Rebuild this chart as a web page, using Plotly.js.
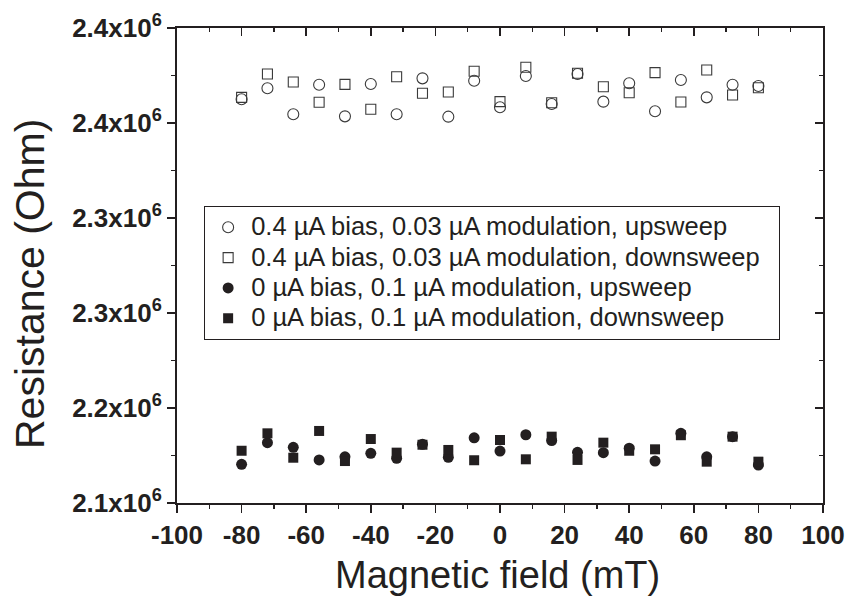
<!DOCTYPE html>
<html>
<head>
<meta charset="utf-8">
<script src="https://cdn.plot.ly/plotly-3.0.1.min.js"></script>
<style>
  html, body { margin: 0; padding: 0; background: #fff; }
  #chart { width: 850px; height: 598px; }
</style>
</head>
<body>
<div id="chart"></div>
<script>
// Magnetic field sweep points (mT)
const field = [-80, -72, -64, -56, -48, -40, -32, -24, -16, -8, 0, 8, 16, 24, 32, 40, 48, 56, 64, 72, 80];

// Resistance (MOhm) for each measurement condition
const biasUp = [2.3950, 2.4019, 2.3855, 2.4042, 2.3842, 2.4046, 2.3855, 2.4082, 2.3840, 2.4067, 2.3899,
                2.4097, 2.3920, 2.4109, 2.3935, 2.4051, 2.3874, 2.4072, 2.3962, 2.4042, 2.4034];
const biasDown = [2.3962, 2.4109, 2.4059, 2.3931, 2.4044, 2.3887, 2.4092, 2.3988, 2.3996, 2.4127, 2.3935,
                  2.4152, 2.3928, 2.4114, 2.4029, 2.3991, 2.4118, 2.3933, 2.4135, 2.3977, 2.4023];
const zeroUp = [2.1644, 2.1781, 2.1752, 2.1672, 2.1692, 2.1714, 2.1682, 2.1771, 2.1689, 2.1812, 2.1728,
                2.1831, 2.1794, 2.1720, 2.1718, 2.1746, 2.1665, 2.1840, 2.1692, 2.1819, 2.1640];
const zeroDown = [2.1730, 2.1840, 2.1686, 2.1855, 2.1665, 2.1804, 2.1718, 2.1768, 2.1735, 2.1670, 2.1798,
                  2.1676, 2.1819, 2.1672, 2.1781, 2.1730, 2.1739, 2.1828, 2.1661, 2.1819, 2.1661];

const seriesNames = [
  '0.4 \u00b5A bias, 0.03 \u00b5A modulation, upsweep',
  '0.4 \u00b5A bias, 0.03 \u00b5A modulation, downsweep',
  '0 \u00b5A bias, 0.1 \u00b5A modulation, upsweep',
  '0 \u00b5A bias, 0.1 \u00b5A modulation, downsweep'
];

// X tick positions (mT) and labels, printed with a plain hyphen
const xTickVals = [-100, -80, -60, -40, -20, 0, 20, 40, 60, 80, 100];
const xTickText = ['-100', '-80', '-60', '-40', '-20', '0', '20', '40', '60', '80', '100'];

// Y tick positions (MOhm) and their printed labels
const yTickVals = [2.14, 2.20, 2.26, 2.32, 2.38, 2.44];
const yTickText = ['2.1x10<sup>6</sup>', '2.2x10<sup>6</sup>', '2.3x10<sup>6</sup>',
                   '2.3x10<sup>6</sup>', '2.4x10<sup>6</sup>', '2.4x10<sup>6</sup>'];

const xTitle = 'Magnetic field (mT)';
const yTitle = 'Resistance (Ohm)';

const toOhm = arr => arr.map(v => v * 1e6);
const ink = '#231f20';
const family = 'Liberation Sans, Arial, sans-serif';

// Legend entries: larger glyphs than the row pitch, plus a little right-hand padding
const legendLabel = name => '<span style="font-size:25.5px">' + name + '\u00a0\u00a0</span>';

function scatter(y, name, symbol, filled, size) {
  return {
    x: field, y: toOhm(y), name: legendLabel(name), type: 'scatter', mode: 'markers',
    marker: filled
      ? { symbol: symbol, size: size, color: ink, line: { width: 0 } }
      : { symbol: symbol, size: size, color: '#3a3a3a', line: { width: 1.1 } }
  };
}

const traces = [
  scatter(biasUp, seriesNames[0], 'circle-open', false, 11),
  scatter(biasDown, seriesNames[1], 'square-open', false, 10),
  scatter(zeroUp, seriesNames[2], 'circle', true, 11),
  scatter(zeroDown, seriesNames[3], 'square', true, 10),
  // carrier for the mirrored top/right axes
  { x: [], y: [], xaxis: 'x2', yaxis: 'y2', type: 'scatter', mode: 'markers', showlegend: false, hoverinfo: 'skip' }
];

const xRange = [-100, 100];
const yRange = [2.14e6, 2.44e6];
const tickFont = { family: family, size: 26, color: ink, weight: 'bold' };
const tickStyle = { ticklen: 8, tickwidth: 1.5, tickcolor: ink };
const lineStyle = { showline: true, linecolor: ink, linewidth: 2, showgrid: false, zeroline: false };

const layout = {
  width: 850, height: 598,
  margin: { l: 177, r: 27, t: 28, b: 95 },
  paper_bgcolor: '#fff', plot_bgcolor: '#fff',
  showlegend: true,
  legend: {
    x: 0.042, y: 0.625, xanchor: 'left', yanchor: 'top',
    bordercolor: ink, borderwidth: 1, bgcolor: '#fff',
    font: { family: family, size: 21, color: ink },
    tracegroupgap: 0, itemwidth: 36
  },
  xaxis: Object.assign({
    range: xRange, tickmode: 'array', tickvals: xTickVals, ticktext: xTickText,
    ticks: 'outside',
    minor: { tickmode: 'linear', dtick: 10, tick0: -100, ticks: 'outside', ticklen: 4, tickwidth: 1.5, tickcolor: ink, showgrid: false },
    tickfont: tickFont
  }, tickStyle, lineStyle),
  yaxis: Object.assign({
    range: yRange, tickmode: 'array', tickvals: toOhm(yTickVals), ticktext: yTickText,
    ticks: 'outside',
    minor: { tickmode: 'linear', tick0: 2.14e6, dtick: 0.03e6, ticks: 'outside', ticklen: 4, tickwidth: 1.5, tickcolor: ink, showgrid: false },
    tickfont: tickFont
  }, tickStyle, lineStyle),
  xaxis2: Object.assign({
    overlaying: 'x', side: 'top', anchor: 'y2', range: xRange,
    tickmode: 'array', tickvals: xTickVals, ticks: 'inside',
    minor: { tickmode: 'linear', dtick: 10, tick0: -100, ticks: 'inside', ticklen: 4, tickwidth: 1.5, tickcolor: ink, showgrid: false },
    showticklabels: false
  }, tickStyle, lineStyle),
  yaxis2: Object.assign({
    overlaying: 'y', side: 'right', anchor: 'x2', range: yRange,
    tickmode: 'array', tickvals: toOhm(yTickVals), ticks: 'inside',
    minor: { tickmode: 'linear', tick0: 2.14e6, dtick: 0.03e6, ticks: 'inside', ticklen: 4, tickwidth: 1.5, tickcolor: ink, showgrid: false },
    showticklabels: false
  }, tickStyle, lineStyle),
  annotations: [
    { text: xTitle, xref: 'paper', yref: 'paper', x: 0.4954, y: -0.1516, xanchor: 'center', yanchor: 'middle',
      showarrow: false, font: { family: family, size: 38, color: ink } },
    { text: yTitle, xref: 'paper', yref: 'paper', x: -0.2276, y: 0.461, xanchor: 'center', yanchor: 'middle',
      textangle: -90, showarrow: false, font: { family: family, size: 41, color: ink } }
  ]
};

Plotly.newPlot('chart', traces, layout, { staticPlot: true, displayModeBar: false });
</script>
</body>
</html>
